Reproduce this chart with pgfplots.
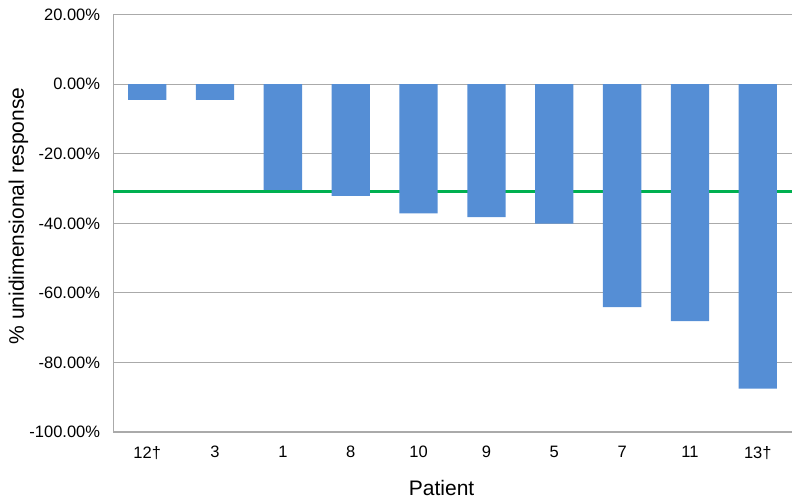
\documentclass[border=0pt]{standalone}
\usepackage{fontspec}
\setmainfont{Liberation Sans}
\usepackage{pgfplots}
\pgfplotsset{compat=1.18}
\definecolor{barblue}{RGB}{85,142,213}
\definecolor{refgreen}{RGB}{0,176,80}
\definecolor{gridgray}{RGB}{170,170,170}
\begin{document}
\begin{tikzpicture}
\path[use as bounding box] (-113.3bp,-72bp) rectangle (686.7bp,432bp);
\begin{axis}[
  at={(0,0)}, anchor=south west,
  scale only axis,
  width=678.4bp, height=417.3bp,
  xmin=-0.5, xmax=9.5,
  ymin=-100, ymax=20,
  axis x line*=bottom, axis y line*=left,
  axis line style={gridgray, line width=1.2bp},
  ymajorgrids,
  grid style={gridgray, line width=1.2bp},
  major tick length=0pt,
  xtick={0,...,9},
  xticklabels={12†,3,1,8,10,9,5,7,11,13†},
  ytick={-100,-80,-60,-40,-20,0,20},
  yticklabels={-100.00\%,-80.00\%,-60.00\%,-40.00\%,-20.00\%,0.00\%,20.00\%},
  xticklabel style={anchor=north, inner sep=0pt, yshift=-14bp, font=\fontsize{16.5bp}{18bp}\selectfont},
  yticklabel style={anchor=east, inner sep=0pt, xshift=-13bp, font=\fontsize{16.5bp}{18bp}\selectfont},
  xlabel={Patient},
  ylabel={\% unidimensional response},
  xlabel style={at={(axis description cs:0.484,-0.133)}, anchor=center, font=\fontsize{21bp}{24bp}\selectfont},
  ylabel style={at={(axis description cs:-0.140,0.518)}, anchor=center, rotate=0, font=\fontsize{21bp}{24bp}\selectfont},
  axis on top=false,
  clip=false,
]
\addplot[refgreen, line width=3bp, forget plot] coordinates {(-0.5,-30.9) (9.5,-30.9)};
\addplot[ybar, bar width=0.565, fill=barblue, draw=none] coordinates {
  (0,-4.5) (1,-4.5) (2,-30.4) (3,-32.1) (4,-37.1) (5,-38.2) (6,-40.1) (7,-64.1) (8,-68.1) (9,-87.5)
};
\end{axis}
\end{tikzpicture}
\end{document}
